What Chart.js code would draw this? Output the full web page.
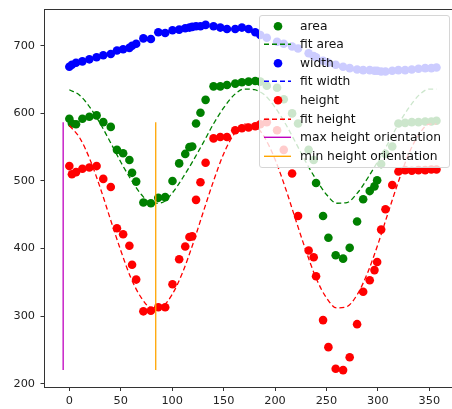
<!DOCTYPE html>
<html>
<head>
<meta charset="UTF-8">
<title>area / width / height vs orientation</title>
<script src="https://cdn.jsdelivr.net/npm/chart.js"></script>
<style>
  body { margin: 0; background: #fff; }
  #wrap { position: relative; width: 452px; height: 409px; overflow: hidden; }
  #plot { display: block; }
  #legend {
    position: absolute; left: 259px; top: 15px; width: 191px; height: 153px;
    box-sizing: border-box; border: 1px solid #d6d6d6; border-radius: 3px;
    background: rgba(255, 255, 255, 0.8);
    font-family: "DejaVu Sans", sans-serif; font-size: 12.3px; color: #111;
    padding-top: 0.7px;
  }
  .row { position: relative; height: 18.6px; }
  .row svg { position: absolute; left: 0; top: 0; }
  .row span { position: absolute; left: 40px; top: 0; line-height: 18.6px; white-space: nowrap; }
</style>
</head>
<body>
<div id="wrap">
  <canvas id="plot" width="458" height="409"></canvas>
  <div id="legend"></div>
</div>
<script>
// angle of each frame (degrees)
const angle = [0, 2.5, 6.5, 12.7, 19.5, 26.5, 33, 40.3, 46.3, 52.3, 58.4, 61, 65, 72, 79.3, 86.5,
  93.2, 100.3, 106.8, 112.7, 116.8, 119.5, 123.2, 127.5, 132.5, 140.2, 146.8, 153.3, 161.3, 167.8, 174.3, 180.8,
  185.7, 192, 202, 208.5, 216.6, 222.4, 232.7, 237.6, 239.9, 246.7, 251.9, 259, 266.2, 272.6, 279.8, 285.7,
  292.1, 296.7, 299.3, 303.2, 307.4, 314, 320, 326.5, 333, 339.5, 346, 352, 357];

const area = [592, 585, 584, 592, 595, 597, 587, 580, 546, 541, 531, 512, 499, 468, 467, 475,
  476, 500, 526, 540, 550, 551, 585, 601, 620, 640, 640, 642, 644, 646, 647, 648,
  647, 641, 638, 621, 600, 585, 546, 531, 497, 448, 416, 390, 385, 401, 440, 473,
  485, 492, 501, 525, 540, 551, 585, 586, 587, 587, 588, 588, 589];

const width = [669, 672, 675, 677, 680, 683, 686, 688, 693, 695, 697, 700, 703, 711, 710, 720,
  719, 723, 724, 726, 727, 728, 729, 729, 731, 729, 727, 725, 725, 727, 725, 720,
  716, 712, 706, 703, 699, 696, 689, 685, 683, 678, 675, 672, 669, 667, 665, 664,
  664, 663, 663, 662, 662, 663, 664, 664, 665, 666, 667, 667, 668];

const height = [522, 510, 513, 518, 520, 522, 503, 491, 430, 421, 404, 376, 354, 307, 308, 313,
  313, 347, 384, 403, 417, 418, 472, 498, 527, 563, 565, 565, 575, 578, 579, 581,
  584, 587, 575, 546, 511, 448, 397, 387, 359, 294, 254, 222, 220, 239, 288, 336,
  353, 368, 380, 428, 458, 494, 514, 516, 515, 516, 516, 517, 517];

// fitted curves
const fitAngle = [0, 10, 20, 30, 40, 50, 60, 70, 80, 90, 100, 110, 120, 130, 140, 150, 160, 170, 180,
  190, 200, 210, 220, 230, 240, 250, 260, 270, 280, 290, 300, 310, 320, 330, 340, 350, 357];
const fitArea = [635, 627, 609, 585, 557, 528, 502, 480, 467, 468, 482, 504, 529, 556, 584, 608, 627, 636, 635,
  627, 609, 585, 557, 528, 502, 480, 467, 468, 482, 504, 529, 556, 584, 608, 627, 636, 636];
const fitWidth = [];
const fitHeight = [582, 564, 532, 490, 443, 397, 356, 327, 312, 314, 332, 364, 406, 453, 499, 540, 569, 584, 582,
  564, 532, 490, 443, 397, 356, 327, 312, 314, 332, 364, 406, 453, 499, 540, 569, 584, 584];

const maxHeightOrientation = -6;
const minHeightOrientation = 84;

const xTicks = [0, 50, 100, 150, 200, 250, 300, 350];
const yTicks = [200, 300, 400, 500, 600, 700];

const pts = (xs, ys) => ys.map((y, i) => ({ x: xs[i], y: y }));
const hMin = Math.min(...height), hMax = Math.max(...height);

const GREEN = '#008000', BLUE = '#0000ff', RED = '#ff0000', MAGENTA = '#bf00bf', ORANGE = '#ffa500';
const DASH = [5, 3];

function dots(label, ys, color, order) {
  return { label, data: pts(angle, ys), showLine: false, pointRadius: 4.3, pointHoverRadius: 4.3,
    pointBackgroundColor: color, pointBorderWidth: 0, order };
}
function fitLine(label, ys, color, order) {
  return { label, data: pts(fitAngle, ys), showLine: true, pointRadius: 0, borderColor: color,
    borderWidth: 1.3, borderDash: DASH, cubicInterpolationMode: 'monotone', order };
}
function vline(label, x, color, order) {
  return { label, data: [{ x: x, y: hMin }, { x: x, y: hMax }], showLine: true, pointRadius: 0,
    borderColor: color, borderWidth: 1.3, order };
}

// top spine (the right one falls outside the picture)
const frame = {
  id: 'frame',
  afterDatasetsDraw(chart) {
    const { ctx, chartArea: a } = chart;
    const y = Math.round(a.top) + 0.5;
    ctx.save();
    ctx.strokeStyle = '#333';
    ctx.lineWidth = 1;
    ctx.beginPath();
    ctx.moveTo(a.left, y);
    ctx.lineTo(a.right, y);
    ctx.stroke();
    ctx.restore();
  }
};

const tickFont = { family: 'DejaVu Sans', size: 11.3 };
const fixTicks = list => s => { s.ticks = list.map(v => ({ value: v })); };

new Chart(document.getElementById('plot'), {
  type: 'scatter',
  data: {
    datasets: [
      dots('area', area, GREEN, 7),
      fitLine('fit area', fitArea, GREEN, 6),
      dots('width', width, BLUE, 5),
      fitLine('fit width', fitWidth, BLUE, 4),
      dots('height', height, RED, 3),
      fitLine('fit height', fitHeight, RED, 2),
      vline('max height orientation', maxHeightOrientation, MAGENTA, 1),
      vline('min height orientation', minHeightOrientation, ORANGE, 0)
    ]
  },
  options: {
    responsive: false,
    animation: false,
    layout: { autoPadding: false, padding: { left: 0, right: 2.8, top: 9, bottom: 0 } },
    plugins: { legend: { display: false }, tooltip: { enabled: false } },
    scales: {
      x: {
        type: 'linear', min: -24.15, max: 375.2,
        afterBuildTicks: fixTicks(xTicks),
        ticks: { font: tickFont, color: '#222', padding: 3, maxRotation: 0, autoSkip: false },
        grid: { display: true, drawOnChartArea: false, drawTicks: true, tickLength: 4, color: '#333' },
        border: { display: true, color: '#333' },
        afterFit: s => { s.height = 22; s.paddingLeft = 0; s.paddingRight = 0; }
      },
      y: {
        type: 'linear', min: 195, max: 754.5,
        afterBuildTicks: fixTicks(yTicks),
        ticks: { font: tickFont, color: '#222', padding: 5.5, autoSkip: false },
        grid: { display: true, drawOnChartArea: false, drawTicks: true, tickLength: 4, color: '#333' },
        border: { display: true, color: '#333' },
        afterFit: s => { s.width = 44.5; s.paddingTop = 0; s.paddingBottom = 0; }
      }
    }
  },
  plugins: [frame]
});

// legend drawn as html so the points behind it show through faded
const legendItems = [
  ['area', 'dot', GREEN], ['fit area', 'dash', GREEN],
  ['width', 'dot', BLUE], ['fit width', 'dash', BLUE],
  ['height', 'dot', RED], ['fit height', 'dash', RED],
  ['max height orientation', 'solid', MAGENTA], ['min height orientation', 'solid', ORANGE]
];
const legend = document.getElementById('legend');
legendItems.forEach(([text, kind, color]) => {
  const row = document.createElement('div');
  row.className = 'row';
  let mark;
  if (kind === 'dot') {
    mark = `<circle cx="18" cy="9.3" r="4.3" fill="${color}"/>`;
  } else {
    const dash = kind === 'dash' ? ' stroke-dasharray="5,3"' : '';
    mark = `<line x1="4" y1="9.3" x2="31" y2="9.3" stroke="${color}" stroke-width="1.4"${dash}/>`;
  }
  row.innerHTML = `<svg width="36" height="18.6">${mark}</svg><span>${text}</span>`;
  legend.appendChild(row);
});
</script>
</body>
</html>
